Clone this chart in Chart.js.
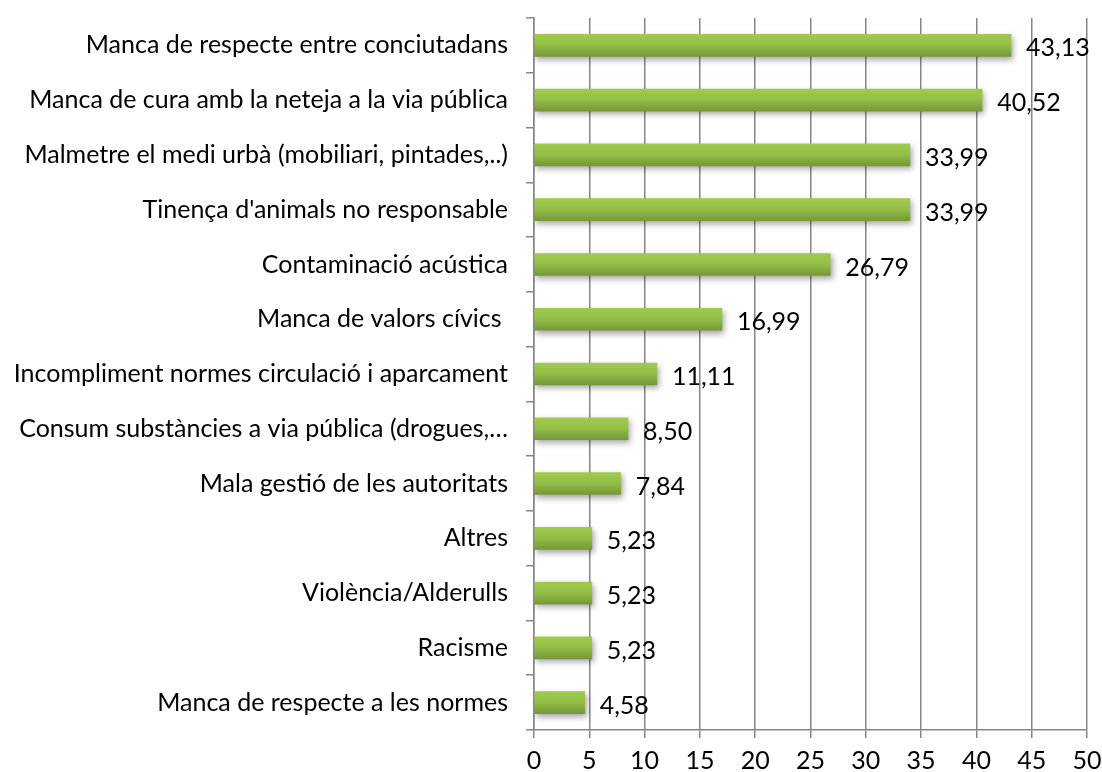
<!DOCTYPE html>
<html>
<head>
<meta charset="utf-8">
<script src="https://cdn.jsdelivr.net/npm/chart.js@4"></script>
<style>
html,body{margin:0;padding:0;background:#fff;}
#wrap{width:1102px;height:772px;}
</style>
</head>
<body>
<div id="wrap"><canvas id="c" width="1102" height="772"></canvas></div>
<script>
const categories = [
  "Manca de respecte entre conciutadans",
  "Manca de cura amb la neteja a la via pública",
  "Malmetre el medi urbà (mobiliari, pintades,..)",
  "Tinença d'animals no responsable",
  "Contaminació acústica",
  "Manca de valors cívics ",
  "Incompliment normes circulació i aparcament",
  "Consum substàncies a via pública (drogues,…",
  "Mala gestió de les autoritats",
  "Altres",
  "Violència/Alderulls",
  "Racisme",
  "Manca de respecte a les normes"
];
const values = [43.13, 40.52, 33.99, 33.99, 26.79, 16.99, 11.11, 8.50, 7.84, 5.23, 5.23, 5.23, 4.58];
const xTicks = [0, 5, 10, 15, 20, 25, 30, 35, 40, 45, 50];

const FONT = "Lato, 'Open Sans', sans-serif";
const FSIZE = 25;
const BAR = 22;

function barGradient(context) {
  const chart = context.chart;
  const ys = chart.scales && chart.scales.y;
  if (!ys || context.dataIndex == null) return '#8db543';
  const y = ys.getPixelForValue(context.dataIndex);
  if (!isFinite(y)) return '#8db543';
  const g = chart.ctx.createLinearGradient(0, y - BAR/2, 0, y + BAR/2);
  g.addColorStop(0, '#9fca4d');
  g.addColorStop(0.45, '#95c047');
  g.addColorStop(1, '#76973a');
  return g;
}

const barStyle = {
  id: 'barStyle',
  beforeDatasetsDraw(chart) {
    const ctx = chart.ctx;
    ctx.save();
    ctx.shadowColor = 'rgba(0,0,0,0.35)';
    ctx.shadowBlur = 6;
    ctx.shadowOffsetX = 2;
    ctx.shadowOffsetY = 3;
  },
  afterDatasetsDraw(chart) {
    const ctx = chart.ctx;
    ctx.restore();
    ctx.save();
    ctx.font = FSIZE + "px " + FONT;
    ctx.fillStyle = '#000';
    ctx.textAlign = 'left';
    ctx.textBaseline = 'middle';
    chart.getDatasetMeta(0).data.forEach((el, i) => {
      ctx.fillText(values[i].toFixed(2).replace('.', ','), el.x + 15, el.y + 3);
    });
    ctx.restore();
  }
};

new Chart(document.getElementById('c'), {
  type: 'bar',
  data: {
    labels: categories,
    datasets: [{
      data: values,
      backgroundColor: barGradient,
      borderWidth: 0,
      barThickness: BAR
    }]
  },
  options: {
    indexAxis: 'y',
    responsive: false,
    animation: false,
    layout: { padding: { top: 18, right: 15, left: 0, bottom: 0 } },
    plugins: { legend: { display: false }, tooltip: { enabled: false } },
    scales: {
      x: {
        min: 0, max: 50,
        afterBuildTicks(scale) { scale.ticks = xTicks.map(v => ({ value: v })); },
        afterFit(scale) { scale.height = 42; scale.paddingLeft = 0; scale.paddingRight = 0; },
        grid: { color: '#868686', lineWidth: 1.5, tickLength: 8, drawTicks: true },
        border: { color: '#868686', width: 1.5 },
        ticks: { color: '#000', font: { family: FONT, size: FSIZE }, padding: 8, maxRotation: 0 }
      },
      y: {
        afterFit(scale) { scale.width = 534; scale.paddingTop = 0; scale.paddingBottom = 0; },
        grid: { display: true, drawOnChartArea: false, color: '#868686', lineWidth: 1.5, tickLength: 8, offset: true },
        border: { color: '#868686', width: 1.5 },
        ticks: { color: '#000', font: { family: FONT, size: FSIZE }, padding: 18, autoSkip: false }
      }
    }
  },
  plugins: [barStyle]
});
</script>
</body>
</html>
